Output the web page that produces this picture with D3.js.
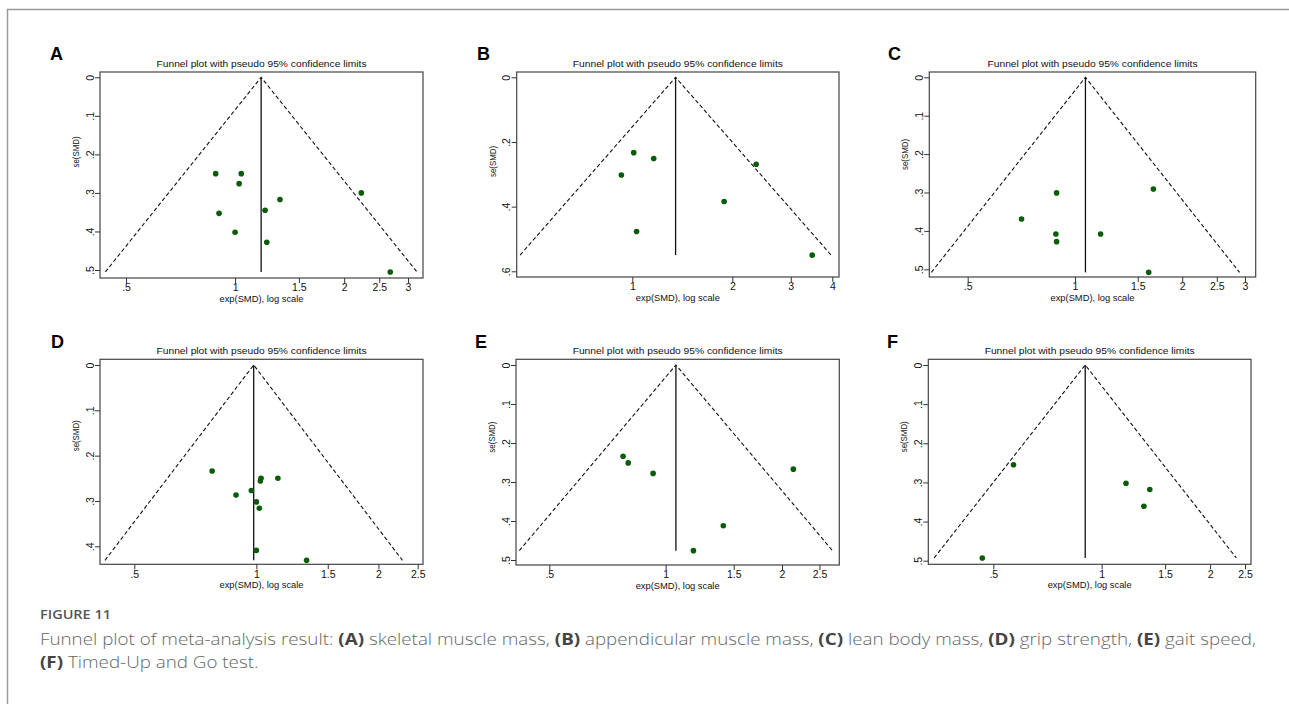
<!DOCTYPE html>
<html>
<head>
<meta charset="utf-8">
<script src="https://cdnjs.cloudflare.com/ajax/libs/d3/7.8.5/d3.min.js"></script>
<style>
  html, body { margin: 0; padding: 0; background: #fff; }
  svg { display: block; }
</style>
</head>
<body>
<svg id="fig" width="1289" height="704"></svg>
<script>
// panel data: exp(SMD) and se(SMD)
var letters = ["A", "B", "C", "D", "E", "F"];
var pooled = [1.18, 1.35, 1.07, 0.985, 1.063, 0.90];

var expA = [0.884, 1.04, 1.026, 0.903, 1.00, 1.21, 1.33, 1.223, 2.23, 2.68];
var seA  = [0.250, 0.250, 0.276, 0.353, 0.402, 0.345, 0.317, 0.428, 0.300, 0.505];

var expB = [1.01, 1.16, 0.927, 1.03, 2.36, 1.89, 3.48];
var seB  = [0.233, 0.251, 0.302, 0.477, 0.269, 0.384, 0.550];

var expC = [0.888, 0.708, 0.884, 0.888, 1.18, 1.66, 1.61];
var seC  = [0.301, 0.369, 0.408, 0.428, 0.408, 0.291, 0.508];

var expD = [0.778, 0.891, 0.972, 1.00, 1.017, 1.027, 1.023, 1.13, 1.00, 1.33];
var seD  = [0.234, 0.287, 0.277, 0.302, 0.316, 0.250, 0.256, 0.250, 0.409, 0.431];

var expE = [0.776, 0.80, 0.928, 2.14, 1.41, 1.18];
var seE  = [0.234, 0.251, 0.278, 0.267, 0.412, 0.476];

var expF = [0.569, 1.168, 1.36, 1.31, 0.466];
var seF  = [0.255, 0.302, 0.318, 0.361, 0.493];

var xTicksA = [0.5, 1, 1.5, 2, 2.5, 3], yTicksA = [0, 0.1, 0.2, 0.3, 0.4, 0.5];
var xTicksB = [1, 2, 3, 4],             yTicksB = [0, 0.2, 0.4, 0.6];
var xTicksC = [0.5, 1, 1.5, 2, 2.5, 3], yTicksC = [0, 0.1, 0.2, 0.3, 0.4, 0.5];
var xTicksD = [0.5, 1, 1.5, 2, 2.5],    yTicksD = [0, 0.1, 0.2, 0.3, 0.4];
var xTicksE = [0.5, 1, 1.5, 2, 2.5],    yTicksE = [0, 0.1, 0.2, 0.3, 0.4, 0.5];
var xTicksF = [0.5, 1, 1.5, 2, 2.5],    yTicksF = [0, 0.1, 0.2, 0.3, 0.4, 0.5];

var titleText = "Funnel plot with pseudo 95% confidence limits";
var yLabel = "se(SMD)";
var xLabel = "exp(SMD), log scale";

// layout of each panel (box edges, scale anchors, letter spot)
var layout = [
    {box: [100, 423, 72, 278],     xd: [0.5, 3],   xr: [126, 408],     yd: [0, 0.5], yr: [77.3, 270],  lx: 50,  ly: 60,  yl: -23},
    {box: [516.7, 839, 72, 277],   xd: [1, 4],     xr: [632.3, 832.3], yd: [0, 0.6], yr: [77.3, 271.3], lx: 477, ly: 60, yl: -13},
    {box: [929.3, 1255.7, 72, 277], xd: [0.5, 3],  xr: [967.7, 1245],  yd: [0, 0.5], yr: [77.3, 269.3], lx: 888, ly: 60, yl: -20},
    {box: [100, 423, 359.3, 564.3], xd: [0.5, 2.5], xr: [134.3, 417.7], yd: [0, 0.4], yr: [365, 546.3], lx: 51,  ly: 348, yl: -26},
    {box: [516, 839.3, 359.3, 565], xd: [0.5, 2],   xr: [549.3, 782],   yd: [0, 0.5], yr: [365, 560],   lx: 475, ly: 348, yl: -25},
    {box: [928.3, 1251, 359.3, 564.3], xd: [0.5, 2.5], xr: [993.3, 1245], yd: [0, 0.5], yr: [365, 560.7], lx: 887, ly: 348, yl: -25}
];

var exps = [expA, expB, expC, expD, expE, expF];
var ses = [seA, seB, seC, seD, seE, seF];
var xTicks = [xTicksA, xTicksB, xTicksC, xTicksD, xTicksE, xTicksF];
var yTicks = [yTicksA, yTicksB, yTicksC, yTicksD, yTicksE, yTicksF];

var svg = d3.select("#fig");
var stataFont = "'Liberation Sans', Arial, sans-serif";

// outer frame (left + top rule)
svg.append("path")
    .attr("d", "M7.5,704 L7.5,9.5 L1289,9.5")
    .attr("fill", "none")
    .attr("stroke", "#9a9a9a")
    .attr("stroke-width", 1.5);

function fmtTick(d) {
    var s = String(d);
    return s.replace(/^0\./, ".");
}

letters.forEach(function (letter, i) {
    var L = layout[i];
    var x = d3.scaleLog().domain(L.xd).range(L.xr);
    var y = d3.scaleLinear().domain(L.yd).range(L.yr);
    var l = L.box[0], r = L.box[1], t = L.box[2], b = L.box[3];

    var g = svg.append("g");

    // panel letter
    g.append("text")
        .attr("x", L.lx).attr("y", L.ly)
        .attr("font-family", stataFont)
        .attr("font-weight", "bold")
        .attr("font-size", 18)
        .text(letter);

    // title
    g.append("text")
        .attr("x", (l + r) / 2).attr("y", t - 5)
        .attr("text-anchor", "middle")
        .attr("font-family", stataFont)
        .attr("font-size", 9.8)
        .attr("textLength", 210)
        .attr("lengthAdjust", "spacingAndGlyphs")
        .attr("fill", "#111")
        .text(titleText);

    // plot box
    g.append("rect")
        .attr("x", l).attr("y", t)
        .attr("width", r - l).attr("height", b - t)
        .attr("fill", "#fff")
        .attr("stroke", "#444")
        .attr("stroke-width", 1.2);

    // y axis
    var ya = g.append("g")
        .attr("transform", "translate(" + l + ",0)")
        .call(d3.axisLeft(y).tickValues(yTicks[i]).tickSize(5).tickFormat(fmtTick));
    ya.select(".domain").remove();
    ya.selectAll("line").attr("stroke", "#333");
    ya.selectAll("text")
        .attr("x", 0).attr("y", -10).attr("dy", "0.35em")
        .attr("transform", "rotate(-90)")
        .attr("text-anchor", "middle")
        .attr("font-family", stataFont)
        .attr("font-size", 10.5)
        .attr("fill", "#111");

    g.append("text")
        .attr("transform", "translate(" + (l - 21) + "," + ((t + b) / 2 + L.yl) + ") rotate(-90)")
        .attr("text-anchor", "middle")
        .attr("font-family", stataFont)
        .attr("font-size", 9)
        .attr("textLength", 31)
        .attr("lengthAdjust", "spacingAndGlyphs")
        .attr("fill", "#111")
        .text(yLabel);

    // x axis
    var xa = g.append("g")
        .attr("transform", "translate(0," + b + ")")
        .call(d3.axisBottom(x).tickValues(xTicks[i]).tickSize(5).tickPadding(1).tickFormat(fmtTick));
    xa.select(".domain").remove();
    xa.selectAll("line").attr("stroke", "#333");
    xa.selectAll("text")
        .attr("font-family", stataFont)
        .attr("font-size", 10.5)
        .attr("fill", "#111");

    g.append("text")
        .attr("x", (l + r) / 2).attr("y", b + 24)
        .attr("text-anchor", "middle")
        .attr("font-family", stataFont)
        .attr("font-size", 9)
        .attr("textLength", 84)
        .attr("lengthAdjust", "spacingAndGlyphs")
        .attr("fill", "#111")
        .text(xLabel);

    // funnel
    var theta = pooled[i];
    var seMax = d3.max(ses[i]);
    var k = Math.exp(1.96 * seMax);
    var line = d3.line().x(function (d) { return x(d[0]); }).y(function (d) { return y(d[1]); });

    g.append("path")
        .attr("d", line([[theta / k, seMax], [theta, 0], [theta * k, seMax]]))
        .attr("fill", "none")
        .attr("stroke", "#111")
        .attr("stroke-width", 1.1)
        .attr("stroke-dasharray", "4,2.5");

    g.append("path")
        .attr("d", line([[theta, 0], [theta, seMax]]))
        .attr("stroke", "#111")
        .attr("stroke-width", 1.3);

    // studies
    g.selectAll("circle")
        .data(exps[i].map(function (v, j) { return [v, ses[i][j]]; }))
        .enter().append("circle")
        .attr("cx", function (d) { return x(d[0]); })
        .attr("cy", function (d) { return y(d[1]); })
        .attr("r", 2.8)
        .attr("fill", "#0a5c0a");
});

// caption
var capFont = "'Open Sans', 'Noto Sans', sans-serif";
svg.append("text")
    .attr("x", 40).attr("y", 619)
    .attr("font-family", capFont)
    .attr("font-weight", 600)
    .attr("font-size", 12)
    .attr("fill", "#555")
    .attr("textLength", 71)
    .attr("lengthAdjust", "spacingAndGlyphs")
    .text("FIGURE 11");

var capLines = [
    [["Funnel plot of meta-analysis result: ", false],
     ["(A)", true], [" skeletal muscle mass, ", false], ["(B)", true], [" appendicular muscle mass, ", false],
     ["(C)", true], [" lean body mass, ", false], ["(D)", true], [" grip strength, ", false],
     ["(E)", true], [" gait speed,", false]],
    [["(F)", true], [" Timed-Up and Go test.", false]]
];

var capY = [645, 668];
var caps = capLines.map(function (parts, li) {
    var t = svg.append("text")
        .attr("x", 40).attr("y", capY[li])
        .attr("font-family", capFont)
        .attr("font-size", 15.5)
        .attr("fill", "#666")
        .attr("xml:space", "preserve");
    parts.forEach(function (p) {
        t.append("tspan")
            .attr("font-weight", p[1] ? 700 : 300)
            .attr("fill", p[1] ? "#444" : "#666")
            .text(p[0]);
    });
    return t;
});
// adjust caption lines so line one spans the width seen in the figure
var ratio = 1216 / caps[0].node().getComputedTextLength();
caps.forEach(function (t) {
    var w = t.node().getComputedTextLength();
    t.attr("textLength", w * ratio).attr("lengthAdjust", "spacingAndGlyphs");
});
</script>
</body>
</html>
